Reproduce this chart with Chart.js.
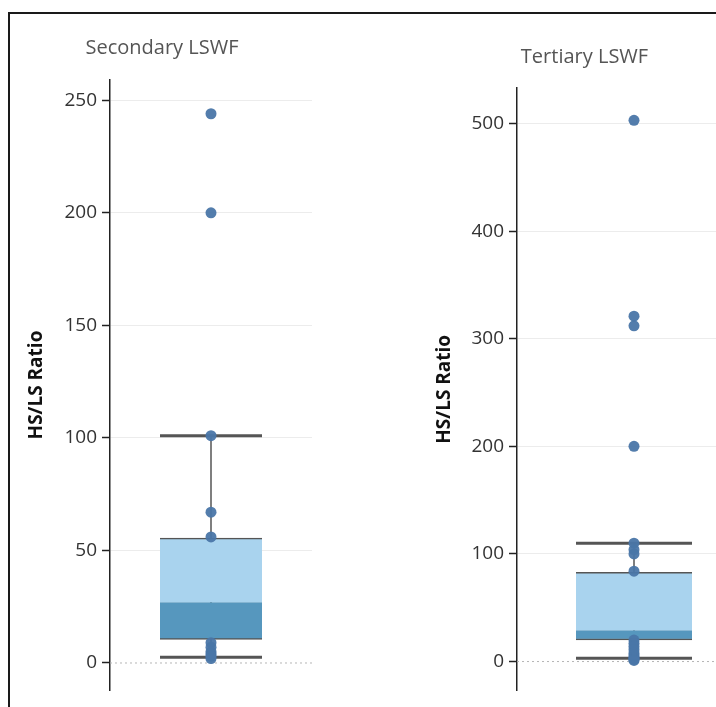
<!DOCTYPE html>
<html>
<head>
<meta charset="utf-8">
<script src="https://cdn.jsdelivr.net/npm/chart.js@4.4.1/dist/chart.umd.min.js"></script>
<style>
  html, body { margin: 0; padding: 0; background: #fff; width: 716px; height: 707px; overflow: hidden; position: relative; }
  #frame { position: absolute; left: 8px; top: 12px; width: 720px; height: 710px; border-top: 2px solid #1a1a1a; border-left: 2px solid #1a1a1a; }
  canvas { position: absolute; top: 0; }
  #c1 { left: 0px; }
  #c2 { left: 330px; }
</style>
</head>
<body>
<div id="frame"></div>
<canvas id="c1" width="312" height="707"></canvas>
<canvas id="c2" width="421" height="707"></canvas>
<script>
// ---- data ----
const categories = ['Secondary LSWF', 'Tertiary LSWF'];
const axisTitle = 'HS/LS Ratio';

// individual observations
const secondaryPoints = [244, 200, 101, 67, 56, 9, 7, 5, 4, 3, 2];
const tertiaryPoints = [503, 321, 312, 200, 110, 104, 100, 84, 20, 17, 14, 11, 8, 6, 4, 3, 2, 1];

// box statistics: [lower whisker, Q1, median, Q3, upper whisker]
const secondaryBox = [2.5, 10.5, 27, 55.5, 101];
const tertiaryBox = [3, 20, 29, 83, 110];

// tick labels and axis ranges
const secondaryTicks = [0, 50, 100, 150, 200, 250];
const tertiaryTicks = [0, 100, 200, 300, 400, 500];
const secondaryRange = [-12, 259];
const tertiaryRange = [-27, 533];

// ---- styles ----
const LIGHT = '#a9d3ee';
const DARK = '#5697be';
const WHISK = '#555555';
const DOT = 'rgba(74,118,168,0.95)';

function makePanel(id, title, points, box, ticks, range, geom) {
  const [lw, q1, med, q3, uw] = box;
  const X = 1;
  new Chart(document.getElementById(id), {
    type: 'bar',
    data: {
      datasets: [
        { type: 'line', data: [{x: 0, y: 0}, {x: 2, y: 0}], borderColor: '#b5b5b5', borderWidth: 1,
          borderDash: [2, 3], pointRadius: 0, order: 6 },
        { type: 'line', data: [{x: X, y: lw}, {x: X, y: uw}], borderColor: WHISK, borderWidth: 1.5,
          pointRadius: 0, order: 5 },
        { type: 'bar', data: [{x: X, y: [q1, med]}], backgroundColor: DARK, borderColor: WHISK,
          borderWidth: {top: 0, bottom: 1.5, left: 0, right: 0}, borderSkipped: false,
          barThickness: geom.boxWidth, grouped: false, order: 4 },
        { type: 'bar', data: [{x: X, y: [med, q3]}], backgroundColor: LIGHT, borderColor: WHISK,
          borderWidth: {top: 1.5, bottom: 0, left: 0, right: 0}, borderSkipped: false,
          barThickness: geom.boxWidth, grouped: false, order: 3 },
        { type: 'scatter', data: [{x: X, y: lw}, {x: X, y: uw}], pointStyle: 'line',
          pointRadius: geom.boxWidth / 2, borderColor: WHISK, borderWidth: 3, order: 2 },
        { type: 'scatter', data: points.map(v => ({x: X, y: v})), pointRadius: 5.5,
          backgroundColor: DOT, borderWidth: 0, order: 1 }
      ]
    },
    options: {
      responsive: false,
      animation: false,
      events: [],
      layout: { autoPadding: false, padding: { left: geom.padLeft, right: 0, top: 0, bottom: geom.padBottom } },
      plugins: {
        legend: { display: false },
        tooltip: { enabled: false },
        title: {
          display: true, text: title, color: '#555555',
          font: { family: 'Open Sans', size: 20, weight: 'normal', lineHeight: 1.2 },
          padding: { top: geom.titleTop, bottom: geom.titleBottom }
        }
      },
      scales: {
        x: { type: 'linear', min: 0, max: 2, offset: false, display: false },
        y: {
          type: 'linear', min: range[0], max: range[1],
          afterFit: s => { s.width = geom.axisWidth; },
          afterBuildTicks: s => { s.ticks = ticks.map(v => ({value: v})); },
          ticks: { color: '#333333', padding: 5, font: { family: 'Open Sans', size: 19 } },
          grid: {
            color: c => (c.tick && c.tick.value === 0) ? 'rgba(0,0,0,0)' : '#ececec',
            lineWidth: 1, tickLength: 8, tickColor: '#222222', tickWidth: 1.5
          },
          border: { display: true, color: '#222222', width: 1.5 },
          title: {
            display: true, text: axisTitle, color: '#111111',
            font: { family: 'Open Sans', size: 19, weight: 'bold', lineHeight: 1.2 },
            padding: { top: geom.yTitlePad, bottom: 0 }
          }
        }
      }
    }
  });
}

makePanel('c1', categories[0], secondaryPoints, secondaryBox, secondaryTicks, secondaryRange,
  { boxWidth: 102, padLeft: 12, padBottom: 17, axisWidth: 98, yTitlePad: 13.6, titleTop: 36, titleBottom: 20 });
makePanel('c2', categories[1], tertiaryPoints, tertiaryBox, tertiaryTicks, tertiaryRange,
  { boxWidth: 116, padLeft: 88, padBottom: 14, axisWidth: 99, yTitlePad: 15.6, titleTop: 45, titleBottom: 19 });
</script>
</body>
</html>
